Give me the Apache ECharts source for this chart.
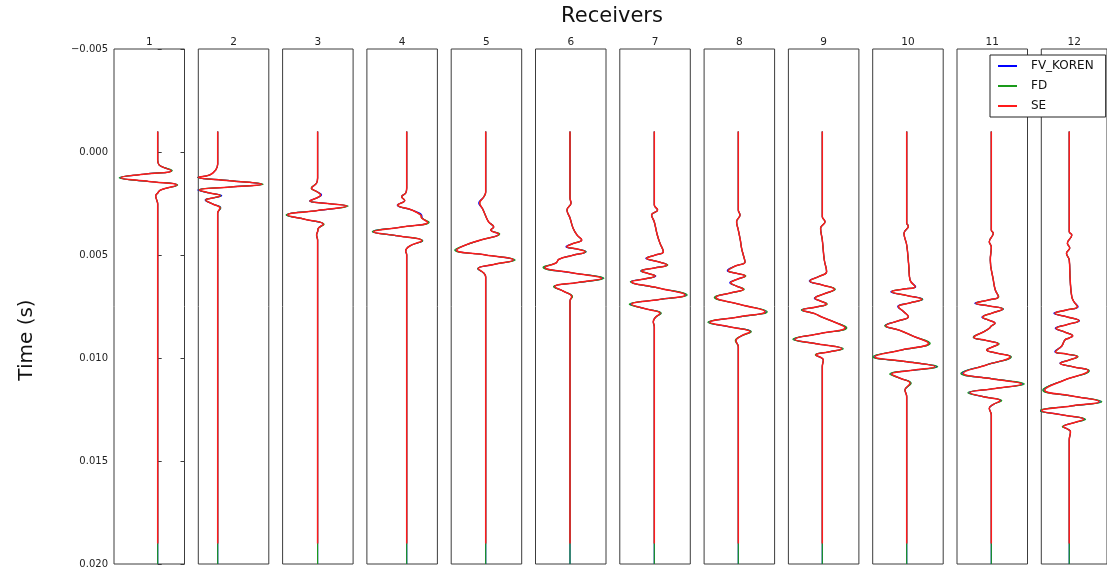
<!DOCTYPE html>
<html>
<head>
<meta charset="utf-8">
<title>Receivers</title>
<script src="https://cdn.jsdelivr.net/npm/echarts@6/dist/echarts.min.js"></script>
<style>
  html, body { margin: 0; padding: 0; background: #fff; }
  #chart { width: 1107px; height: 571px; }
</style>
</head>
<body>
<div id="chart"></div>
<script>
// Receiver labels, one panel per receiver
const receivers = ['1', '2', '3', '4', '5', '6', '7', '8', '9', '10', '11', '12'];
const methods = ['FV_KOREN', 'FD', 'SE'];

// Time axis (s), drawn downward
const timeTicks = [-0.005, 0.000, 0.005, 0.010, 0.015, 0.020];

// Amplitude range shown in each receiver panel
const ampLimits = [
  [-43.7, 26.8], [-19.4, 51.1], [-35.0, 35.5], [-39.8, 30.7],
  [-34.5, 36.0], [-34.5, 36.0], [-34.5, 36.0], [-34.2, 36.3],
  [-33.9, 36.6], [-34.0, 36.5], [-34.3, 36.2], [-30.0, 40.5]
];

// Seismograms: rows of [time (s), FV_KOREN, FD, SE]
const trace1 = [
  [-0.0010, 0, 0, 0], [0.000388, 0, 0, 0], [0.000631, 1.5, 1.5, 1.5],
  [0.000908, 14, 14.5, 13.3], [0.001068, -12, -12, -12], [0.001247, -38, -38.5, -36.7],
  [0.001432, -9, -9, -9], [0.001602, 19.5, 20, 19], [0.001845, 3, 3, 3],
  [0.001990, 0, 0, 0], [0.002136, -2, -2, -2], [0.002330, -1, -1, -1],
  [0.002524, 0, 0, 0], [0.0190, 0, 0, 0], [0.0200, 0, 0, null]
];
const trace2 = [
  [-0.0010, 0, 0, 0], [0.000582, 0, 0, 0], [0.000874, -2, -2, -2],
  [0.001116, -8, -8, -8], [0.001228, -20, -20, -19.4], [0.001393, 12, 12, 12],
  [0.001568, 44.5, 45.5, 44], [0.001699, 13, 13, 13], [0.001845, -20, -19, -18.4],
  [0.001990, -8, -8, -8], [0.002121, 4, 3, 2.3], [0.002233, -5, -5, -5],
  [0.002330, -12.5, -12, -11.7], [0.002524, -5, -5, -5], [0.002718, 3, 3, 2.3],
  [0.002961, 0, 0, 0], [0.0190, 0, 0, 0], [0.0200, 0, 0, null]
];
const trace3 = [
  [-0.0010, 0, 0, 0], [0.001262, 0, 0, 0], [0.001505, -1, -1, -1],
  [0.001762, -6, -6.5, -6], [0.001917, -1, -1, -1], [0.002087, 4, 3, 3],
  [0.002233, -1, -1, -1], [0.002378, -8, -7.7, -7.7], [0.002500, 10, 10, 10],
  [0.002621, 29.5, 30.5, 29], [0.002840, 0, 0, 0], [0.003058, -31, -31.5, -30],
  [0.003276, -12, -12, -12], [0.003509, 6, 6.5, 5.7], [0.003689, 1, 1, 1],
  [0.003869, 0, 0, 0], [0.004029, -1, -1, -1], [0.004272, 0, 0, 0],
  [0.0190, 0, 0, 0], [0.0200, 0, 0, null]
];
const trace4 = [
  [-0.0010, 0, 0, 0], [0.001747, 0, 0, 0], [0.001990, -1, -1, -1],
  [0.002170, -5, -5, -5], [0.002354, -2, -2, -2], [0.002573, -9.5, -9, -9],
  [0.002815, 5, 5, 5], [0.003058, 15, 14, 14], [0.003204, 15.5, 15, 15],
  [0.003412, 21.5, 22.5, 21], [0.003641, -5, -5, -5], [0.003869, -34, -34.5, -33],
  [0.004077, -8, -8, -8], [0.004305, 16, 16, 15], [0.004563, 3, 3, 3],
  [0.004805, -1, -1, -1], [0.005000, 0, 0, 0], [0.0190, 0, 0, 0], [0.0200, 0, 0, null]
];
const trace5 = [
  [-0.0010, 0, 0, 0], [0.001942, 0, 0, 0], [0.002184, -2, -2, -2],
  [0.002476, -7, -6, -6], [0.002767, -3, -3, -3], [0.003107, 0, 0, 0],
  [0.003398, 3, 3, 3], [0.003641, 8, 8, 8], [0.003786, 5, 5, 5],
  [0.003980, 13, 14, 13], [0.004272, -5, -5, -5], [0.004514, -20, -20, -20],
  [0.004757, -30, -31, -29], [0.005000, 0, 0, 0], [0.005242, 28.5, 29.5, 27.5],
  [0.005461, 8, 8, 8], [0.005665, -8, -8, -7.4], [0.005873, -2, -2, -2],
  [0.006068, 0, 0, 0], [0.006456, 0, 0, 0], [0.0190, 0, 0, 0], [0.0200, 0, 0, null]
];
const trace6 = [
  [-0.0010, 0, 0, 0], [0.002233, 0, 0, 0], [0.002476, 1, 1, 1],
  [0.002815, -3, -3, -3], [0.003204, 0, 0, 0], [0.003689, 3, 3, 3],
  [0.004029, 7, 7, 7], [0.004272, 11.7, 11.7, 11.7], [0.004441, 3, 3, 3],
  [0.004597, -4, -3, -3], [0.004708, 7, 7, 7], [0.004839, 16, 16, 15],
  [0.005024, 2, 2, 2], [0.005208, -11, -11, -11], [0.005388, -14, -14, -14],
  [0.005597, -26, -27, -25], [0.005873, 3, 3, 3], [0.006131, 33, 34, 31.7],
  [0.006334, 8, 8, 8], [0.006538, -16, -16.5, -15], [0.006771, -6, -6, -6],
  [0.007024, 2, 2.5, 1.7], [0.007232, 0, 0, 0], [0.0190, 0, 0, 0], [0.0200, 0, 0, null]
];
const trace7 = [
  [-0.0010, 0, 0, 0], [0.002573, 0, 0, 0], [0.002815, 3.3, 3.3, 3.3],
  [0.003058, -2.7, -2.7, -2.7], [0.003398, 0, 0, 0], [0.004029, 3, 3, 3],
  [0.004432, 5.7, 5.7, 5.7], [0.004839, 9, 9, 9], [0.005000, 1, 1, 1],
  [0.005160, -8.5, -7.7, -7.7], [0.005315, 3, 3, 3], [0.005485, 12.7, 13.5, 12.7],
  [0.005631, 0, 0, 0], [0.005776, -13.5, -13.5, -12.7], [0.005898, -6, -6, -6],
  [0.006019, 1.5, 0.7, 0.7], [0.006165, -10, -10, -10], [0.006296, -23.5, -24, -22.7],
  [0.006601, 4, 4, 4], [0.006941, 32, 33, 30.7], [0.007160, 5, 5, 5],
  [0.007393, -24, -25, -22.7], [0.007611, -9, -9, -9], [0.007830, 6.5, 7, 5.7],
  [0.008033, 1, 1, 1], [0.008237, -1, -1, -1], [0.008495, 0, 0, 0],
  [0.0190, 0, 0, 0], [0.0200, 0, 0, null]
];
const trace8 = [
  [-0.0010, 0, 0, 0], [0.002815, 0, 0, 0], [0.003058, 1.7, 1.7, 1.7],
  [0.003383, -1.7, -1.7, -1.7], [0.003786, 0, 0, 0], [0.004272, 2, 2, 2],
  [0.004674, 3.3, 3.3, 3.3], [0.005000, 5, 5, 5], [0.005339, 6.7, 6.7, 6.7],
  [0.005534, -3, -3, -3], [0.005762, -11, -10, -10], [0.005888, -2, -2, -2],
  [0.006019, 6.7, 7.5, 6.7], [0.006179, -1, -1, -1], [0.006344, -8.5, -7.7, -7.7],
  [0.006504, -2, -2, -2], [0.006665, 5, 6, 5], [0.006844, -8, -8, -8],
  [0.007053, -23, -24, -22.3], [0.007402, 2, 2, 2], [0.007752, 28, 29, 26.7],
  [0.008009, 0, 0, 0], [0.008266, -29.5, -30.5, -28.3], [0.008495, -8, -8, -8],
  [0.008723, 12.5, 13, 11.7], [0.008931, 3, 3, 3], [0.009160, -2.3, -3, -2.3],
  [0.009451, 0, 0, 0], [0.0190, 0, 0, 0], [0.0200, 0, 0, null]
];
const trace9 = [
  [-0.0010, 0, 0, 0], [0.003141, 0, 0, 0], [0.003383, 2.7, 2.7, 2.7],
  [0.003704, -1.7, -1.7, -1.7], [0.004272, 0, 0, 0], [0.005242, 2, 2, 2],
  [0.005810, 4.3, 4.3, 4.3], [0.006034, -3, -3, -3], [0.006262, -13, -12.3, -12.3],
  [0.006456, 0, 0, 0], [0.006665, 12.5, 13, 12], [0.006883, 2, 2, 2],
  [0.007101, -8, -7.3, -7.3], [0.007232, -2, -2, -2], [0.007378, 4.3, 5, 4.3],
  [0.007524, -6, -6, -6], [0.007669, -20.5, -21, -19.7], [0.007839, -8, -8, -8],
  [0.008024, 0, 0, 0], [0.008252, 12, 12, 12], [0.008529, 23.5, 24.5, 22.7],
  [0.008810, -2, -2, -2], [0.009092, -28.5, -29.5, -27.3], [0.009320, -4, -4, -4],
  [0.009548, 20, 21, 19.3], [0.009708, 6, 6, 6], [0.009854, -6.3, -7, -6.3],
  [0.010096, 1, 1, 1], [0.010422, 0, 0, 0], [0.0190, 0, 0, 0], [0.0200, 0, 0, null]
];
const trace10 = [
  [-0.0010, 0, 0, 0], [0.003461, 0, 0, 0], [0.003592, 1.7, 1.7, 1.7],
  [0.003946, -2.7, -2.7, -2.7], [0.004514, 0, 0, 0], [0.005485, 2, 2, 2],
  [0.006213, 3.3, 3.3, 3.3], [0.006538, 9, 8.3, 8.3], [0.006650, -3, -3, -3],
  [0.006781, -16, -15, -15], [0.006965, 0, 0, 0], [0.007150, 16, 16, 15],
  [0.007330, 3, 3, 3], [0.007509, -9, -8.3, -8.3], [0.007752, -3, -3, -3],
  [0.007995, 1.7, 1.7, 1.7], [0.008203, -9, -9, -9], [0.008431, -21.5, -22, -20.7],
  [0.008640, -8, -8, -8], [0.008800, 0, 0, 0], [0.008931, 6, 6, 6],
  [0.009286, 22.5, 23.5, 21.7], [0.009611, -5, -5, -5], [0.009936, -33, -34, -31.7],
  [0.010179, 0, 0, 0], [0.010422, 30, 31, 28.3], [0.010596, 6, 6, 6],
  [0.010776, -16, -17, -15], [0.010994, -6, -6, -6], [0.011227, 4, 4.5, 3.3],
  [0.011553, -1.7, -1.7, -1.7], [0.011878, 0, 0, 0], [0.0190, 0, 0, 0], [0.0200, 0, 0, null]
];
const trace11 = [
  [-0.0010, 0, 0, 0], [0.003786, 0, 0, 0], [0.003946, 2, 2, 2],
  [0.004354, -2, -2, -2], [0.004611, 0, 0, 0], [0.005242, -1, -1, -1],
  [0.006213, 2, 2, 2], [0.006699, 4, 4, 4], [0.007024, 7, 7.5, 7],
  [0.007184, -3, -3, -3], [0.007344, -16.5, -15.3, -15.3], [0.007475, -2, -2, -2],
  [0.007621, 12, 12, 11.3], [0.007815, 1, 1, 1], [0.008024, -9.5, -8.7, -8.7],
  [0.008155, -3, -3, -3], [0.008315, 3.7, 3.7, 3.7], [0.008446, 0, 0, 0],
  [0.008558, -2, -2, -2], [0.008737, -8, -8, -8], [0.008994, -18, -18, -17.3],
  [0.009150, -5, -5, -5], [0.009320, 7, 8, 7], [0.009465, 1, 1, 1],
  [0.009611, -4.7, -4.7, -4.7], [0.009757, 5, 5, 5], [0.009936, 19.5, 20, 18.7],
  [0.010339, -5, -5, -5], [0.010742, -29.5, -30.5, -28], [0.011004, 0, 0, 0],
  [0.011261, 31.5, 33, 30.3], [0.011480, 4, 4, 4], [0.011684, -22.5, -23.5, -21.3],
  [0.011878, -8, -8, -8], [0.012072, 9.5, 10.5, 8.7], [0.012256, 2, 2, 2],
  [0.012441, -2, -2, -2], [0.012766, 0, 0, 0], [0.0190, 0, 0, 0], [0.0200, 0, 0, null]
];
const trace12 = [
  [-0.0010, 0, 0, 0], [0.003869, 0, 0, 0], [0.004029, 2.7, 2.7, 2.7],
  [0.004432, -2, -2, -2], [0.004660, 0.5, 0.5, 0.5], [0.004917, -3, -3, -3],
  [0.005242, 0, 0, 0], [0.006213, 1, 1, 1], [0.007024, 2.7, 2.7, 2.7],
  [0.007266, 5, 5, 5], [0.007509, 9.5, 8.7, 8.7], [0.007669, -3, -3, -3],
  [0.007830, -16.5, -15.3, -15.3], [0.008009, -2, -2, -2], [0.008189, 11, 10.3, 10.3],
  [0.008373, -2, -2, -2], [0.008558, -15, -14, -14], [0.008737, -5, -5, -5],
  [0.008931, 3.7, 3.7, 3.7], [0.009028, 0, 0, 0], [0.009126, -4.7, -4.7, -4.7],
  [0.009417, -8, -8, -8], [0.009693, -15.5, -14.7, -14.7], [0.009805, -3, -3, -3],
  [0.009936, 8.7, 9.5, 8.7], [0.010096, 0, 0, 0], [0.010257, -10, -9.7, -9.7],
  [0.010436, 5, 5, 5], [0.010616, 21, 21.5, 20.3], [0.011067, -5, -5, -5],
  [0.011553, -27.5, -28.5, -26.3], [0.011844, 3, 3, 3], [0.012120, 33.5, 35, 32],
  [0.012329, 2, 2, 2], [0.012557, -31, -32, -29.6], [0.012766, -7, -7, -7],
  [0.012975, 16.5, 17.5, 15.3], [0.013154, 4, 4, 4], [0.013334, -6.3, -7.5, -6.3],
  [0.013446, -2, -2, -2], [0.013577, 1.3, 1.3, 1.3], [0.013980, 0, 0, 0],
  [0.0190, 0, 0, 0], [0.0200, 0, 0, null]
];
const traces = [trace1, trace2, trace3, trace4, trace5, trace6,
                trace7, trace8, trace9, trace10, trace11, trace12];

// ---- layout and styling ----
const FONT = 'DejaVu Sans';
const lineColors = ['#0000ff', '#1a9a1a', '#ff1a1a'];
const lineWidths = [1.2, 1.2, 1.5];
const frameColor = '#3c3c3c';
const panelTop = 49, panelHeight = 515, panelWidth = 70.5;
const panelLeft = i => 114 + i * 84.3;

const grids = [], xAxes = [], yAxes = [], series = [];

receivers.forEach((label, i) => {
  grids.push({
    left: panelLeft(i), top: panelTop, width: panelWidth, height: panelHeight,
    show: true, borderColor: frameColor, borderWidth: 1, backgroundColor: 'transparent'
  });
  xAxes.push({
    type: 'value', gridIndex: i, position: 'top',
    min: ampLimits[i][0], max: ampLimits[i][1],
    name: label, nameLocation: 'middle', nameGap: 1,
    nameTextStyle: { fontFamily: FONT, fontSize: 10.5, color: '#222' },
    axisLine: { show: false }, axisTick: { show: false },
    axisLabel: { show: false }, splitLine: { show: false }
  });
  yAxes.push({
    type: 'value', gridIndex: i, inverse: true,
    min: timeTicks[0], max: timeTicks[timeTicks.length - 1],
    interval: timeTicks[1] - timeTicks[0],
    axisLine: { show: false },
    axisTick: { show: i === 0, inside: true, length: 4, lineStyle: { color: frameColor } },
    axisLabel: {
      show: i === 0, margin: 6, fontFamily: FONT, fontSize: 10, color: '#222',
      formatter: v => (v < 0 ? '\u2212' : '') + Math.abs(v).toFixed(3)
    },
    splitLine: { show: false }
  });
});
// tick marks on the right edge of the first panel
yAxes.push({
  type: 'value', gridIndex: 0, inverse: true, position: 'right',
  min: timeTicks[0], max: timeTicks[timeTicks.length - 1],
  interval: timeTicks[1] - timeTicks[0],
  axisLine: { show: false },
  axisTick: { show: true, inside: true, length: 4, lineStyle: { color: frameColor } },
  axisLabel: { show: false }, splitLine: { show: false }
});

traces.forEach((rows, i) => {
  methods.forEach((name, k) => {
    series.push({
      name, type: 'line', xAxisIndex: i, yAxisIndex: i,
      data: rows.filter(r => r[k + 1] !== null).map(r => [r[k + 1], r[0]]),
      showSymbol: false, symbol: 'none', smooth: 0.45, clip: true, silent: true,
      lineStyle: { color: lineColors[k], width: lineWidths[k] },
      itemStyle: { color: lineColors[k] },
      z: 2 + k
    });
  });
});

const chart = echarts.init(document.getElementById('chart'), null, { renderer: 'canvas' });
chart.setOption({
  animation: false,
  backgroundColor: '#ffffff',
  grid: grids,
  xAxis: xAxes,
  yAxis: yAxes,
  series: series,
  legend: {
    data: methods, orient: 'vertical', left: 990, top: 55,
    itemWidth: 19, itemHeight: 2, itemGap: 8, icon: 'rect',
    padding: [5, 12, 5, 8], borderColor: '#222', borderWidth: 1,
    backgroundColor: '#ffffff', selectedMode: false,
    textStyle: { fontFamily: FONT, fontSize: 12, color: '#111', padding: [0, 0, 0, 9] }
  },
  graphic: [
    {
      type: 'text', x: 612, y: 17,
      style: { text: 'Receivers', fontFamily: FONT, fontSize: 21, fill: '#111',
               align: 'center', verticalAlign: 'middle' }
    },
    {
      type: 'text', x: 27, y: 340, rotation: Math.PI / 2,
      style: { text: 'Time (s)', fontFamily: FONT, fontSize: 20, fill: '#111',
               align: 'center', verticalAlign: 'middle' }
    }
  ]
});
</script>
</body>
</html>
